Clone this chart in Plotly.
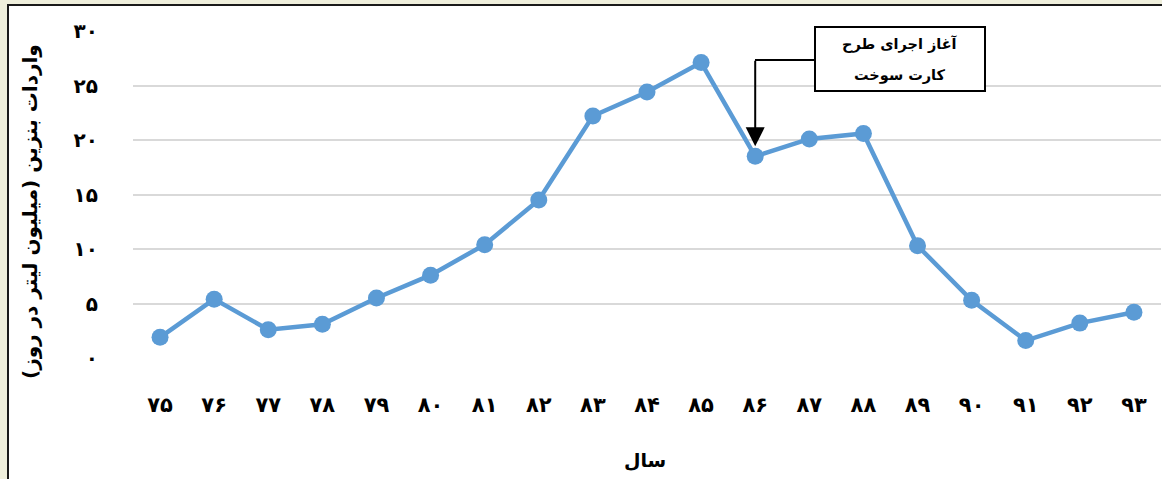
import plotly.graph_objects as go

# Years (Persian calendar, two-digit) and daily gasoline imports
years = ["۷۵", "۷۶", "۷۷", "۷۸", "۷۹", "۸۰", "۸۱", "۸۲", "۸۳", "۸۴",
         "۸۵", "۸۶", "۸۷", "۸۸", "۸۹", "۹۰", "۹۱", "۹۲", "۹۳"]
imports = [1.9, 5.4, 2.6, 3.1, 5.5, 7.6, 10.4, 14.5, 22.2, 24.4,
           27.1, 18.5, 20.1, 20.6, 10.3, 5.3, 1.6, 3.2, 4.2]

y_tick_vals = [0, 5, 10, 15, 20, 25, 30]
y_tick_text = ["۰", "۵", "۱۰", "۱۵", "۲۰", "۲۵", "۳۰"]

event_year = "۸۶"
event_label = ["آغاز اجرای طرح", "کارت سوخت"]
y_title = "واردات بنزین (میلیون لیتر در روز)"
x_title = "سال"

FONT = "DejaVu Sans"
BLUE = "#5B9BD5"

W, H = 1162, 479
L, R, T, B = 133, 1, 31, 121
PW, PH = W - L - R, H - T - B


def px_x(p):
    return (p - L) / PW


def px_y(p):
    return (H - B - p) / PH


fig = go.Figure()
fig.add_trace(go.Scatter(
    x=years, y=imports, mode="lines+markers",
    line=dict(color=BLUE, width=4.5),
    marker=dict(color=BLUE, size=17),
    cliponaxis=False, showlegend=False,
))

shapes = [
    # white card with dark left/top border over the beige page
    dict(type="rect", xref="paper", yref="paper", layer="below",
         x0=px_x(8), x1=px_x(1200), y0=px_y(520), y1=px_y(5),
         fillcolor="white", line=dict(color="#1a1a1a", width=2)),
    # callout box
    dict(type="rect", xref="paper", yref="paper",
         x0=px_x(815), x1=px_x(985), y0=px_y(91), y1=px_y(27),
         fillcolor="white", line=dict(color="black", width=2)),
    # elbow connector leaving the box
    dict(type="line", xref="paper", yref="paper",
         x0=px_x(815), x1=px_x(755), y0=px_y(60), y1=px_y(60),
         line=dict(color="black", width=2)),
]

event_idx = years.index(event_year)
event_val = imports[event_idx]


def label(x, y, text, size, angle=0):
    return dict(x=px_x(x), y=px_y(y), xref="paper", yref="paper",
                xanchor="center", yanchor="middle", textangle=angle,
                text=f"<b>{text}</b>", showarrow=False,
                font=dict(family=FONT, size=size, color="black"))


annotations = [
    dict(x=event_idx, y=event_val, xref="x", yref="y",
         ax=0, ay=-97, axref="pixel", ayref="pixel", text="",
         showarrow=True, arrowhead=2, arrowsize=1.9, arrowwidth=2,
         arrowcolor="black", standoff=10),
    label(900, 44, event_label[0], 14.5),
    label(900, 76, event_label[1], 14.5),
    label(30, 212, y_title, 20, angle=-90),
    label(645, 460, x_title, 19),
]

fig.update_layout(
    width=W, height=H,
    margin=dict(l=L, r=R, t=T, b=B),
    paper_bgcolor="#EFEFDC",
    plot_bgcolor="rgba(0,0,0,0)",
    shapes=shapes,
    annotations=annotations,
    font=dict(family=FONT, color="black"),
)

fig.update_xaxes(
    type="category", range=[-0.5, len(years) - 0.5],
    showgrid=False, zeroline=False, showline=False,
    ticks="", ticklabelstandoff=32,
    tickfont=dict(family=FONT, size=21, color="black", weight="bold"),
)
fig.update_yaxes(
    range=[0, 30], tickvals=y_tick_vals, ticktext=y_tick_text,
    showgrid=True, gridcolor="#D9D9D9", gridwidth=1.5,
    zeroline=False, showline=False, ticks="", ticklabelstandoff=34,
    tickfont=dict(family=FONT, size=20, color="black", weight="bold"),
)

fig.write_html("out.html")
